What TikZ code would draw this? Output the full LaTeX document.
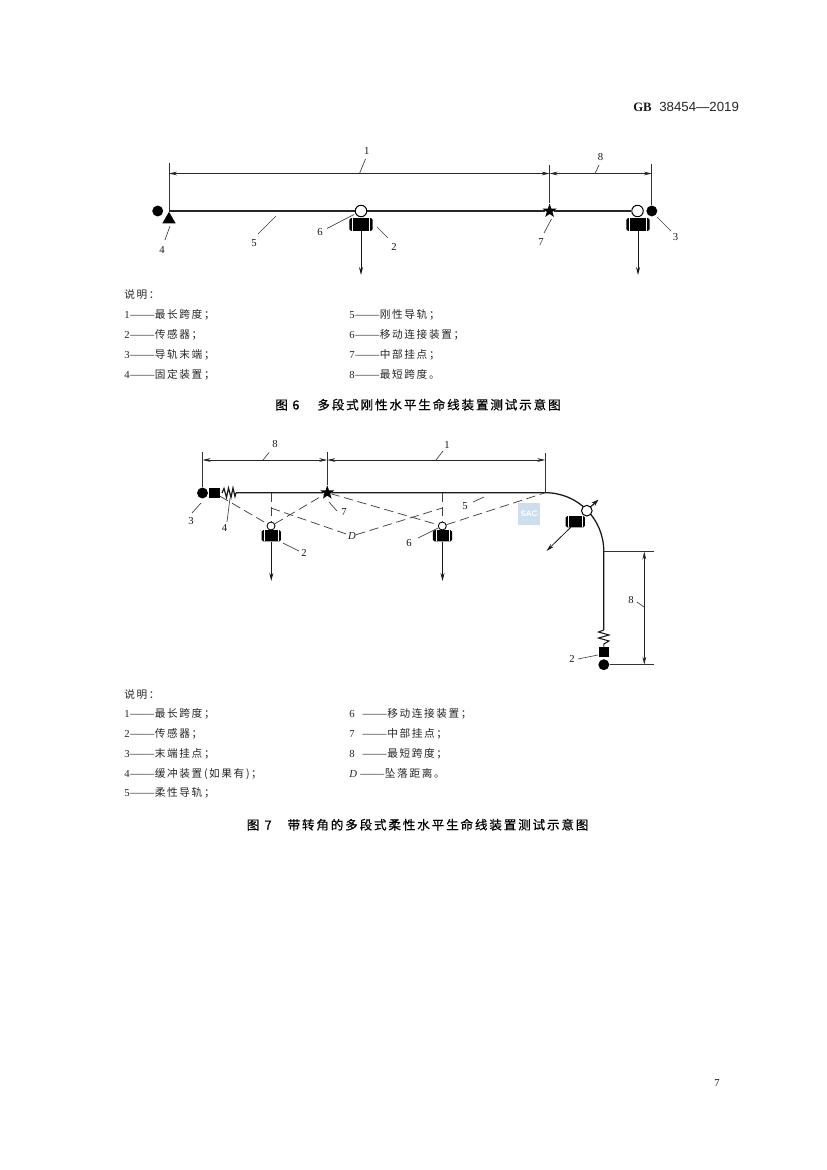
\documentclass[tikz,border=0pt]{standalone}
\usepackage{fontspec}
\usetikzlibrary{arrows.meta,shapes.geometric}
\setmainfont{Liberation Serif}
\newfontfamily\hdsans{Liberation Sans}
\newfontfamily\cjkleg{Noto Sans CJK SC}[LetterSpace=15]
\newfontfamily\cjkcap{Noto Sans CJK SC}[LetterSpace=15,FakeBold=0.5]
\newcommand\lc[1]{{\cjkleg #1}}
\newcommand\leg[3]{#1\hspace{#2pt}{\fontsize{9pt}{9pt}\selectfont ——}\hspace{.5pt}\lc{#3}}
\newcommand\lead[5]{\node[numlbl] (#1) at (#3) {#2};\coordinate (#1a) at (#4);\coordinate (#1b) at (#5);\draw[leaderline] (#1a) -- (#1b);}
\definecolor{wmblue}{RGB}{206,222,238}
\tikzset{
  numlbl/.style={font=\fontsize{8pt}{9pt}\selectfont,text=black!90,inner sep=0pt},
  leaderline/.style={line width=.5pt,black!75},
  legendtxt/.style={font=\fontsize{8pt}{9pt}\selectfont,text=black!85,anchor=base west,inner sep=0pt},
  captxt/.style={font=\fontsize{9.4pt}{10pt}\selectfont\cjkcap,text=black,anchor=base west,inner sep=0pt},
  rail/.style={line width=1.3pt,black!85},
  rope/.style={line width=.95pt,black!90},
  ext/.style={line width=.55pt,black!80},
  dimline/.style={line width=.55pt,black!85,{Stealth[length=6pt,width=2.8pt]}-{Stealth[length=6pt,width=2.8pt]}},
  pull/.style={line width=.6pt,black!90,-{Stealth[length=6pt,width=3pt]}},
  dashl/.style={line width=.55pt,black!75,dash pattern=on 7pt off 3.5pt},
  blk/.style={circle,fill=black,inner sep=0pt,minimum size=8.2pt},
  ring/.style={circle,draw=black,fill=white,line width=.75pt,inner sep=0pt,minimum size=#1},
  sqr/.style={rectangle,fill=black,inner sep=0pt,minimum size=7.8pt},
  starn/.style={star,star points=5,star point ratio=2.5,fill=black,inner sep=0pt,minimum size=11pt},
  tri/.style={regular polygon,regular polygon sides=3,fill=black,inner sep=0pt,minimum size=11.5pt},
  device/.style={rectangle,fill=black,rounded corners=1.2pt,inner sep=0pt,minimum width=#1,minimum height=9.6pt,
    path picture={\draw[white,line width=.4pt]
      ([xshift=2.2pt]path picture bounding box.north west) -- ([xshift=2.2pt]path picture bounding box.south west)
      ([xshift=-2.2pt]path picture bounding box.north east) -- ([xshift=-2.2pt]path picture bounding box.south east);}},
}
\begin{document}
\begin{tikzpicture}[x=0.75pt,y=-0.75pt]
\path[use as bounding box,fill=white] (0,0) rectangle (827,1170);

% header and page number
\node[anchor=base west,inner sep=0pt,font=\fontsize{9.6pt}{10pt}\selectfont\bfseries,text=black!90] (hgb) at (633,111.5) {GB};
\node[anchor=base west,inner sep=0pt,font=\fontsize{9.95pt}{10pt}\selectfont\hdsans,text=black!85] (hnum) at (659,111.5) {38454—2019};
\node[numlbl] (pageno) at (717,1083) {7};

%%% Figure 6
\coordinate (a1) at (169,211);
\node[blk] (a0) at (157.7,211) {};
\node[tri] (a2) at (169,219.5) {};
\node[ring=8.6pt] (a3) at (361,211) {};
\node[starn] (a4) at (549.6,211) {};
\node[ring=8.6pt] (a5) at (637.5,211) {};
\node[blk] (a6) at (651.8,211) {};
\draw[rail] (a1) -- (a3) -- (a4) -- (a5);
\node[device=17.5pt] (d1) at (361,224.5) {};
\node[device=17.5pt] (d2) at (638,224.5) {};
\coordinate (p1) at (361,275);
\coordinate (p2) at (638,275);
\draw[pull] (d1) -- (p1);
\draw[pull] (d2) -- (p2);
\coordinate (e1) at (169,163);
\coordinate (e2) at (549.6,165);
\coordinate (e3) at (651.8,164);
\coordinate (m1) at (169,173.5);
\coordinate (m2) at (549.6,173.5);
\coordinate (m3) at (651.8,173.5);
\draw[ext] (e1) -- (a1);
\draw[ext] (e2) -- (a4);
\draw[ext] (e3) -- (a6);
\draw[dimline] (m1) -- (m2);
\draw[dimline] (m2) -- (m3);
\lead{n1}{1}{366.7,150.5}{359.5,173.5}{365.5,159}
\lead{n8}{8}{600.5,157}{595,173.5}{599,165}
\lead{n5}{5}{254,243}{258,234}{276,216}
\lead{n6}{6}{320,232}{327,228.5}{354,214.5}
\lead{n2}{2}{394,246.5}{377,227}{388,238}
\lead{n4}{4}{162,249.5}{165,240}{170,226}
\lead{n7}{7}{541,242}{544,233}{551.5,219}
\lead{n3}{3}{675.5,237}{657,217}{671,231}

\node[legendtxt] (s6) at (124,298.5) {\lc{说明：}};
\node[legendtxt] (s1) at (124,318.5) {\leg{1}{.5}{最长跨度；}};
\node[legendtxt] (s2) at (124,338.5) {\leg{2}{.5}{传感器；}};
\node[legendtxt] (s3) at (124,358.5) {\leg{3}{.5}{导轨末端；}};
\node[legendtxt] (s4) at (124,378) {\leg{4}{.5}{固定装置；}};
\node[legendtxt] (s5) at (349,318.5) {\leg{5}{.5}{刚性导轨；}};
\node[legendtxt] (s7) at (349,338.5) {\leg{6}{.5}{移动连接装置；}};
\node[legendtxt] (s8) at (349,358.5) {\leg{7}{.5}{中部挂点；}};
\node[legendtxt] (s9) at (349,378) {\leg{8}{.5}{最短跨度。}};
\node[captxt] (c6) at (275,409.5) {图\hspace{3.5pt}6\hspace{13.5pt}多段式刚性水平生命线装置测试示意图};

%%% Figure 7
\node[blk] (b0) at (202.5,493) {};
\node[sqr] (b1) at (214.5,493) {};
\coordinate (b2) at (222,493);
\coordinate (b3) at (236,492.7);
\draw[line width=.9pt,black!90] (b2) -- (224,488.5) -- (226.5,497.5) -- (228.5,488) -- (231,497.5) -- (233,488) -- (235,496.5) -- (b3);
\node[starn] (b4) at (327.3,492.7) {};
\coordinate (b5) at (545.3,492.7);
\coordinate (b6) at (603.8,551.5);
\coordinate (b7) at (603.8,630);
\coordinate (b8) at (603.8,644);
\node[sqr] (b9) at (603.8,652) {};
\node[blk] (b10) at (603.8,664.7) {};
\draw[rope] (b3) -- (b4) -- (b5) .. controls (578,492.7) and (603.8,519) .. (b6) -- (b7);
\draw[line width=.8pt,black!90] (b7) -- (598.5,632) -- (609,635) -- (598.5,638) -- (609,641) -- (b8) -- (b9);
\node[ring=6pt,line width=.65pt] (b11) at (271,526) {};
\node[ring=6pt,line width=.65pt] (b12) at (442.3,526) {};
\node[ring=8pt] (b13) at (586.8,510.7) {};
\node[device=14.5pt,minimum height=8.4pt] (f1) at (271.3,535.8) {};
\node[device=14.5pt,minimum height=8.4pt] (f2) at (442.5,535.8) {};
\node[device=14.5pt,minimum height=8.4pt] (f3) at (575.3,521.7) {};
\coordinate (q1) at (271.3,581);
\coordinate (q2) at (442.5,581);
\coordinate (q3) at (546.5,551);
\coordinate (q4) at (598.5,499.5);
\coordinate (q5) at (590,507.5);
\coordinate (q6) at (571,527);
\draw[pull] (f1) -- (q1);
\draw[pull] (f2) -- (q2);
\draw[pull] (q6) -- (q3);
\draw[line width=.9pt,black!90,-{Stealth[length=5.5pt,width=3.6pt]}] (q5) -- (q4);
% fall-path dashes
\coordinate (v1) at (271,493);
\coordinate (v2) at (442.3,493);
\coordinate (v3) at (271,508);
\coordinate (v4) at (442.3,508);
\node[numlbl,font=\fontsize{8pt}{8pt}\selectfont\itshape] (nD) at (352,536) {D};
\draw[dashl] (v1) -- (b11);
\draw[dashl] (v2) -- (b12);
\draw[dashl] (b1) -- (b11);
\draw[dashl] (b11) -- (b4);
\draw[dashl] (b4) -- (b12);
\draw[dashl] (b12) -- (b5);
\draw[dashl] (v3) -- (nD);
\draw[dashl] (nD) -- (v4);
% extension and dimension lines
\coordinate (g1) at (202.5,452);
\coordinate (g2) at (327.3,452);
\coordinate (g3) at (545.3,453);
\coordinate (h1) at (202.5,460);
\coordinate (h2) at (327.3,460);
\coordinate (h3) at (545.3,460);
\draw[ext] (g1) -- (b0);
\draw[ext] (g2) -- (b4);
\draw[ext] (g3) -- (b5);
\draw[dimline] (h1) -- (h2);
\draw[dimline] (h2) -- (h3);
\coordinate (k1) at (654,551.5);
\coordinate (k2) at (654,664.7);
\coordinate (k3) at (644.3,551.5);
\coordinate (k4) at (644.3,664.7);
\draw[ext] (b6) -- (k1);
\draw[ext] (b10) -- (k2);
\draw[dimline] (k3) -- (k4);
\lead{o8}{8}{275,444}{263,460}{269,452.5}
\lead{o1}{1}{447,445}{436,460}{443,451}
\lead{o3}{3}{191,521}{192,513}{201,503}
\lead{o4}{4}{224.5,528}{227,522}{230,498}
\lead{o7}{7}{344,512}{329,502}{337,511}
\lead{o2}{2}{304,552.5}{283,543}{299,551}
\lead{o6}{6}{409,543}{418,538}{438,528}
\lead{o5}{5}{465,506}{473,502}{484,497}
\lead{oa}{8}{631,600}{637,602}{644,607}
\lead{ob}{2}{572,658.5}{578,659}{598,655}
% watermark
\node[rectangle,fill=wmblue,text=white,inner sep=0pt,minimum width=16pt,minimum height=16pt,font=\fontsize{6pt}{6pt}\selectfont\hdsans\bfseries] (wm) at (529,514) {SAC};

\node[legendtxt] (t0) at (124,698) {\lc{说明：}};
\node[legendtxt] (t1) at (124,717.5) {\leg{1}{.5}{最长跨度；}};
\node[legendtxt] (t2) at (124,737.5) {\leg{2}{.5}{传感器；}};
\node[legendtxt] (t3) at (124,757.5) {\leg{3}{.5}{末端挂点；}};
\node[legendtxt] (t4) at (124,777) {\leg{4}{.5}{缓冲装置(如果有)；}};
\node[legendtxt] (t5) at (124,796.5) {\leg{5}{.5}{柔性导轨；}};
\node[legendtxt] (t6) at (349,717.5) {\leg{6}{6}{移动连接装置；}};
\node[legendtxt] (t7) at (349,737.5) {\leg{7}{6}{中部挂点；}};
\node[legendtxt] (t8) at (349,757.5) {\leg{8}{6}{最短跨度；}};
\node[legendtxt] (t9) at (349,777) {\leg{\textit{D}}{2.5}{坠落距离。}};
\node[captxt] (c7) at (246.5,829.5) {图\hspace{4pt}7\hspace{12pt}带转角的多段式柔性水平生命线装置测试示意图};
\end{tikzpicture}
\end{document}
